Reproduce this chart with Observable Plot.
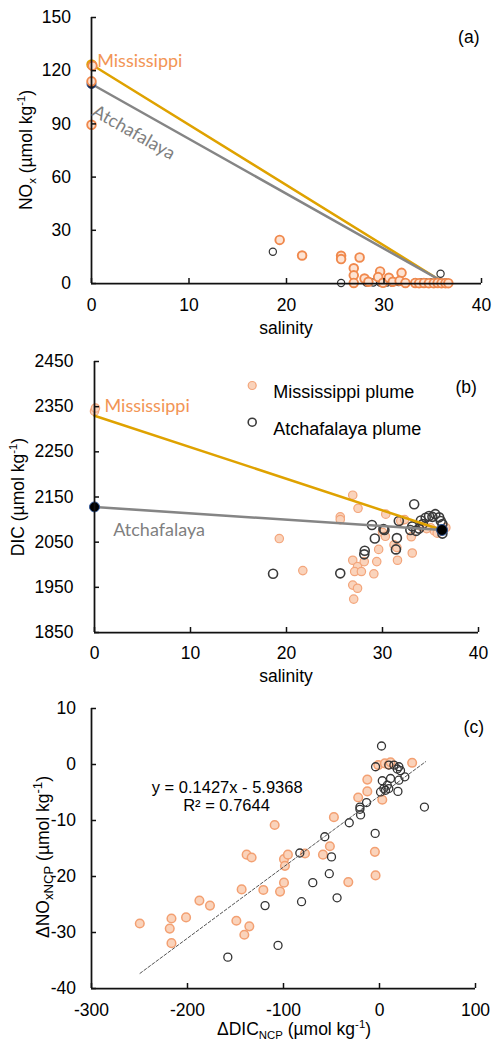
<!DOCTYPE html>
<html><head><meta charset="utf-8">
<script src="https://cdn.jsdelivr.net/npm/d3@7"></script>
<script src="https://cdn.jsdelivr.net/npm/@observablehq/plot@0.6"></script>
<style>
body{margin:0;background:#fff;}
#wrap{position:relative;width:494px;height:1044px;overflow:hidden;background:#fff;}
#wrap svg{position:absolute;left:0;}
</style>
</head><body><div id="wrap"></div>
<script>
// ---------- Panel (a): NOx vs salinity ----------
const msA_sal = [0.1, 0, 0, 19.3, 21.6, 25.6, 25.6, 27.5, 26.9, 26.9, 26.9, 28.0, 28.4, 29.6, 29.4, 29.9, 30.5, 30.9, 31.8, 31.6, 32.2, 33.2, 33.6, 34.1, 34.6, 35.1, 35.5, 35.9, 36.3, 36.6];
const msA_nox = [122.8, 114, 89.5, 24.6, 15.8, 15.6, 13.8, 14.7, 8.6, 4.6, 0.3, 2.8, 1.0, 6.8, 3.6, 0.4, 3.2, 1.0, 6.0, 1.5, 0.3, 0.3, 0.2, 0.3, 0.2, 0.2, 0.3, 0.2, 0.2, 0.2];
const atA_sal = [18.6, 25.6, 28.2, 28.9, 29.6, 30.3, 30.8, 31.5, 33.2, 33.8, 34.3, 34.8, 35.3, 35.8, 36.3, 35.8];
const atA_nox = [17.9, 0.3, 0.6, 0.6, 0.6, 0.6, 0.6, 0.8, 0.6, 0.6, 0.6, 0.6, 0.6, 0.6, 0.6, 5.5];
const mixA_sal = [0, 35.7];
const mixA_ms = [123.5, 2];
const mixA_at = [112.5, 2];
const xTicksA = [0, 10, 20, 30, 40];
const yTicksA = [0, 30, 60, 90, 120, 150];

// ---------- Panel (b): DIC vs salinity ----------
const msB_sal = [0, 0.1, 26.9, 27.45, 25.6, 25.6, 19.25, 21.7, 26.9, 27.4, 27.1, 27.8, 26.9, 27.4, 27.0, 28.1, 29.1, 29.4, 29.6, 30.0, 30.3, 30.34, 31.2, 31.5, 31.56, 31.9, 33.0, 33.1, 35.0, 35.4, 35.7, 36.1, 36.6, 34.0, 34.6, 32.3];
const msB_dic = [2340, 2347, 2154, 2125, 2106, 2100, 2058, 1987, 2010, 1996, 1985, 1985, 1955, 1948, 1924, 2007, 1980, 2007, 2034, 2072, 2063, 2112, 2044, 2038, 2010, 2097, 2062, 2026, 2082, 2075, 2070, 2078, 2082, 2085, 2080, 2100];
const atB_sal = [18.6, 25.6, 28.15, 28.1, 28.9, 29.2, 30.1, 30.2, 31.5, 31.4, 31.7, 33.3, 32.9, 33.1, 33.5, 33.8, 34.2, 34.5, 34.85, 35.2, 35.5, 35.9, 36.07, 36.24, 36.24, 34.0];
const atB_dic = [1980, 1981, 2031, 2023, 2088, 2058, 2079, 2077, 2059, 2034, 2097, 2134, 2077, 2085, 2075, 2080, 2090, 2104, 2108, 2106, 2112, 2105, 2097, 2090, 2069, 2098];
const mixB_sal = [0, 36.2];
const mixB_ms = [2330, 2077];
const mixB_at = [2128, 2077];
const xTicksB = [0, 10, 20, 30, 40];
const yTicksB = [1850, 1950, 2050, 2150, 2250, 2350, 2450];
const legendB = ["Mississippi plume", "Atchafalaya plume"];

// ---------- Panel (c): ΔNOx vs ΔDIC (NCP) ----------
const msC_dic = [-249.7, -216.7, -218.5, -216.7, -201.5, -187.6, -176.6, -149.1, -140.8, -135.6, -143.6, -138.4, -133.2, -121, -109.2, -103.6, -99.5, -99.5, -98.5, -95.4, -77.6, -58.9, -51.7, -47.5, -32.5, -22.2, -12.7, -12.7, -4.8, -4.1, -1.3, 2.9, 5.6, 9.7, 11.5, 34];
const msC_nox = [-28.4, -27.5, -29.3, -31.9, -27.3, -24.3, -25.2, -27.9, -30.4, -28.9, -22.3, -16.1, -16.6, -22.4, -10.8, -22.7, -21.1, -16.9, -18.1, -16.1, -15.9, -16.1, -14.6, -9.4, -21, -5.9, -2.7, -4.8, -15.6, -19.8, -0.1, -6.3, 0.2, 0, 0.4, 0.3];
const atC_dic = [2.1, -4.1, 9.7, 15, 20.2, 18.5, 21.9, 26.4, 11.5, 20.2, 2.9, 8.1, 4.5, 6.3, 9.7, 19.2, 1.1, 46.8, -13.5, -20.4, -20.4, -19.7, -31.5, -4.5, -57, -83, -50, -52.3, -69.5, -44.2, -81.2, -119.2, -105.7, -158];
const atC_nox = [3.3, -0.4, -0.1, -0.1, -0.4, -0.8, -1.1, -2.2, -2.5, -2.8, -2.9, -3.7, -4.3, -4.6, -4.3, -4.8, -4.9, -7.6, -6.8, -7.6, -8.0, -9.0, -10.4, -12.3, -12.9, -15.8, -16.5, -19.5, -21.1, -23.8, -24.5, -25.2, -32.3, -34.4];
const trend_dic = [-249.5, 48];
const trend_nox = [-37.3, 0.5];
const eqText = ["y = 0.1427x - 5.9368", "R² = 0.7644"];
const xTicksC = [-300, -200, -100, 0, 100];
const yTicksC = [-40, -30, -20, -10, 0, 10];

// ---------- styles ----------
const FONT = "'Liberation Sans', Arial, sans-serif";
const LFONT = "Lato, 'Open Sans', sans-serif";
const AX = "#111";
const GOLD = "#DFA200";
const GRAY = "#858585";
const ORTXT = "#F29555";
const FS = 17.5;
const wrap = document.getElementById("wrap");

function axes(xt, yt, padX, padY) {
  return [
    Plot.axisX({ticks: xt, tickSize: 5, dy: -5, fill: "none", stroke: AX, strokeWidth: 1.5, label: null}),
    Plot.axisY({ticks: yt, tickSize: 5, dx: 5, fill: "none", stroke: AX, strokeWidth: 1.5, label: null}),
    Plot.axisX({ticks: xt, tickSize: 0, tickPadding: padX, tickFormat: d => String(d), fill: "#000", label: null}),
    Plot.axisY({ticks: yt, tickSize: 0, tickPadding: padY, tickFormat: d => String(d), fill: "#000", label: null})
  ];
}

function addText(svg, x, y, parts, {rotate = 0, anchor = "middle", size = FS, color = "#000", sub = 0.65} = {}) {
  const t = d3.select(svg).append("text")
    .attr("transform", `translate(${x},${y}) rotate(${rotate})`)
    .attr("text-anchor", anchor)
    .attr("font-family", FONT).attr("font-size", size).attr("fill", color);
  let shift = 0;
  for (const [s, kind] of parts) {
    const sp = t.append("tspan").text(s);
    const target = kind === "sub" ? 4 : kind === "sup" ? -7 : 0;
    if (target - shift !== 0) sp.attr("dy", target - shift);
    shift = target;
    if (kind) sp.attr("font-size", size * sub);
  }
}

function place(svg, top) {
  svg.style.top = top + "px";
  wrap.appendChild(svg);
}

// ---------- Panel (a) ----------
const svgA = Plot.plot({
  width: 494, height: 340,
  marginLeft: 91, marginRight: 13, marginTop: 17, marginBottom: 57,
  style: {fontFamily: FONT, fontSize: FS + "px", background: "transparent", overflow: "visible"},
  x: {domain: [0, 40]},
  y: {domain: [0, 150]},
  marks: [
    Plot.line(mixA_sal, {x: mixA_sal, y: mixA_ms, stroke: GOLD, strokeWidth: 2.5}),
    Plot.line(mixA_sal, {x: mixA_sal, y: mixA_at, stroke: GRAY, strokeWidth: 2.5}),
    Plot.dot([0], {x: [mixA_sal[0]], y: [mixA_ms[0]], r: 4.5, fill: GOLD, stroke: GOLD}),
    Plot.dot([0], {x: [mixA_sal[0]], y: [mixA_at[0]], r: 4.5, fill: "#1a1a2a", stroke: "#2F5597", strokeWidth: 1}),
    Plot.dot(atA_sal, {x: atA_sal, y: atA_nox, r: 3.6, stroke: "#333", strokeWidth: 1.2, fill: "none"}),
    Plot.dot(msA_sal, {x: msA_sal, y: msA_nox, r: 4.3, stroke: "#F0894D", strokeWidth: 1.9, fill: "#FDE3D3"}),
    Plot.ruleX([0], {stroke: AX, strokeWidth: 1.75}),
    Plot.ruleY([0], {stroke: AX, strokeWidth: 1.75}),
    ...axes(xTicksA, yTicksA, 15.5, 20.5),
    Plot.text(["Mississippi"], {frameAnchor: "top-left", dx: 5.7, dy: 36.7, text: d => d, textAnchor: "start", fill: ORTXT, fontFamily: LFONT, fontSize: 18}),
    Plot.text(["Atchafalaya"], {frameAnchor: "top-left", dx: 45.7, dy: 109, text: d => d, textAnchor: "middle", rotate: 29.5, fill: "#7F7F7F", fontFamily: LFONT, fontSize: 18}),
    Plot.text(["(a)"], {frameAnchor: "top-left", dx: 377.3, dy: 13, text: d => d, textAnchor: "middle", fill: "#000", fontSize: FS})
  ]
});
place(svgA, 0);
addText(svgA, 32.1, 150, [["NO"], ["x", "sub"], [" (µmol kg"], ["-1", "sup"], [")"]], {rotate: -90});
addText(svgA, 286, 334, [["salinity"]]);

// ---------- Panel (b) ----------
const svgB = Plot.plot({
  width: 494, height: 355,
  marginLeft: 94, marginRight: 16, marginTop: 21, marginBottom: 63,
  style: {fontFamily: FONT, fontSize: FS + "px", background: "transparent", overflow: "visible"},
  x: {domain: [0, 40]},
  y: {domain: [1850, 2450]},
  marks: [
    Plot.dot(msB_sal, {x: msB_sal, y: msB_dic, r: 4.2, stroke: "#F3A57B", strokeWidth: 1.2, fill: "#FAD3BB"}),
    Plot.dot(atB_sal, {x: atB_sal, y: atB_dic, r: 4.5, stroke: "#3a3a3a", strokeWidth: 1.6, fill: "none"}),
    Plot.line(mixB_sal, {x: mixB_sal, y: mixB_ms, stroke: GOLD, strokeWidth: 2.5}),
    Plot.line(mixB_sal, {x: mixB_sal, y: mixB_at, stroke: GRAY, strokeWidth: 2.5}),
    Plot.dot([0], {x: [mixB_sal[0]], y: [mixB_at[0]], r: 5, fill: "#000", stroke: "#2F5597", strokeWidth: 1}),
    Plot.dot([0], {x: [mixB_sal[1]], y: [mixB_at[1]], r: 5.5, fill: "#000", stroke: "#2F5597", strokeWidth: 1}),
    Plot.ruleX([0], {stroke: AX, strokeWidth: 1.75}),
    Plot.ruleY([1850], {stroke: AX, strokeWidth: 1.75}),
    ...axes(xTicksB, yTicksB, 14, 21),
    Plot.text(["Mississippi"], {frameAnchor: "top-left", dx: 10, dy: 37.3, text: d => d, textAnchor: "start", fill: ORTXT, fontFamily: LFONT, fontSize: 18}),
    Plot.text(["Atchafalaya"], {frameAnchor: "top-left", dx: 18.7, dy: 161.8, text: d => d, textAnchor: "start", fill: "#7F7F7F", fontFamily: LFONT, fontSize: 18}),
    Plot.dot([0], {frameAnchor: "top-left", dx: 157.7, dy: 24, r: 4, stroke: "#F3A57B", strokeWidth: 1.2, fill: "#FAD3BB"}),
    Plot.dot([0], {frameAnchor: "top-left", dx: 157.7, dy: 60.7, r: 4, stroke: "#3a3a3a", strokeWidth: 1.6, fill: "none"}),
    Plot.text([legendB[0]], {frameAnchor: "top-left", dx: 178.7, dy: 24, text: d => d, textAnchor: "start", fill: "#000", fontSize: 18}),
    Plot.text([legendB[1]], {frameAnchor: "top-left", dx: 178.7, dy: 60.7, text: d => d, textAnchor: "start", fill: "#000", fontSize: 18}),
    Plot.text(["(b)"], {frameAnchor: "top-left", dx: 371.7, dy: 19, text: d => d, textAnchor: "middle", fill: "#000", fontSize: FS})
  ]
});
place(svgB, 340);
addText(svgB, 24.4, 157, [["DIC (µmol kg"], ["-1", "sup"], [")"]], {rotate: -90});
addText(svgB, 286, 342, [["salinity"]]);

// ---------- Panel (c) ----------
const svgC = Plot.plot({
  width: 494, height: 349,
  marginLeft: 91, marginRight: 19, marginTop: 13, marginBottom: 56,
  style: {fontFamily: FONT, fontSize: FS + "px", background: "transparent", overflow: "visible"},
  x: {domain: [-300, 100]},
  y: {domain: [-40, 10]},
  marks: [
    Plot.dot(msC_dic, {x: msC_dic, y: msC_nox, r: 4.3, stroke: "#F3A072", strokeWidth: 1.5, fill: "#FAD3BB"}),
    Plot.dot(atC_dic, {x: atC_dic, y: atC_nox, r: 4, stroke: "#333", strokeWidth: 1.3, fill: "none"}),
    Plot.line(trend_dic, {x: trend_dic, y: trend_nox, stroke: "#555", strokeWidth: 1, strokeDasharray: "3,2"}),
    Plot.ruleX([-300], {stroke: AX, strokeWidth: 1.75}),
    Plot.ruleY([-40], {stroke: AX, strokeWidth: 1.75}),
    ...axes(xTicksC, yTicksC, 15, 15.5),
    Plot.text([eqText[0]], {frameAnchor: "top-left", dx: 135.7, dy: 73.2, text: d => d, textAnchor: "middle", fill: "#000", fontSize: 16.5}),
    Plot.text([eqText[1]], {frameAnchor: "top-left", dx: 135, dy: 90.8, text: d => d, textAnchor: "middle", fill: "#000", fontSize: 16.5}),
    Plot.text(["(c)"], {frameAnchor: "top-left", dx: 382.3, dy: 12, text: d => d, textAnchor: "middle", fill: "#000", fontSize: FS})
  ]
});
place(svgC, 695);
addText(svgC, 48.6, 162, [["ΔNO"], ["xNCP", "sub"], [" (µmol kg"], ["-1", "sup"], [")"]], {rotate: -90, sub: 0.75});
addText(svgC, 294, 340, [["ΔDIC"], ["NCP", "sub"], [" (µmol kg"], ["-1", "sup"], [")"]]);
</script>
</body></html>
